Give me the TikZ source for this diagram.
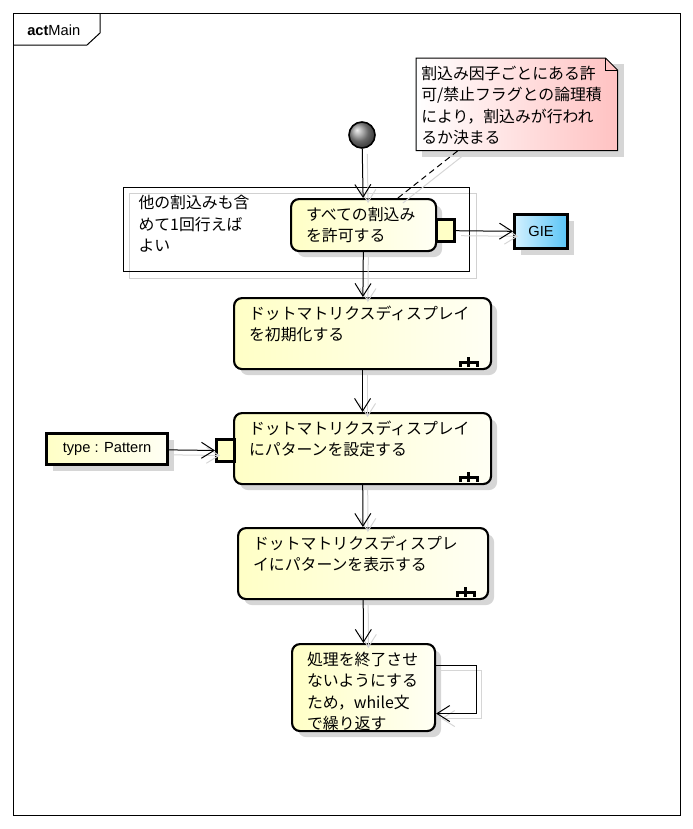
\documentclass[tikz,border=0pt]{standalone}
\usepackage{fontspec}
\setmainfont{Noto Sans CJK JP}
\newfontfamily\latin{Liberation Sans}
\usetikzlibrary{arrows.meta,shadows,backgrounds}

\definecolor{actyellow}{HTML}{FFFFC6}
\definecolor{actlight}{HTML}{FFFFF4}
\definecolor{notepink}{HTML}{FFC2C2}
\definecolor{gieblue}{HTML}{58C4F6}
\definecolor{gielight}{HTML}{D2F0FF}
\definecolor{shadowgray}{HTML}{D6D6D6}

\newcommand{\acttext}[3]{\parbox[t][#2][t]{#1}{#3}}

\tikzset{
  jp/.style={font=\fontsize{11.9}{16}\selectfont},
  flow/.style={-{Straight Barb[length=9.5pt,width=12pt]}, line width=0.75pt},
  ghost/.style={draw=black!16, transform canvas={shift={(3.75pt,-3.75pt)}}},
  boxshadow/.style={drop shadow={shadow xshift=4.5pt, shadow yshift=-4.5pt, fill=shadowgray, opacity=1}},
  action/.style={jp, draw, line width=1.6pt, rounded corners=6pt, left color=actyellow, right color=actlight,
    anchor=north west, inner xsep=11.25pt, inner ysep=6pt, boxshadow},
  pinbox/.style={draw, line width=2.4pt, fill=actyellow, anchor=north west,
    minimum width=13.5pt, minimum height=16.5pt, inner sep=0pt},
  objbox/.style={draw, line width=2.4pt, anchor=north west, inner sep=0pt,
    font=\latin\fontsize{11}{13}\selectfont, boxshadow},
  start/.style={circle, draw, line width=1.2pt, ball color=gray!85, minimum size=19.5pt, inner sep=0pt},
  callicon/.style={draw=black, line width=2.2pt, line cap=butt}
}

\begin{document}
\begin{tikzpicture}[x=0.75pt, y=-0.75pt]
\useasboundingbox (0,0) rectangle (693,829);

% frame
\draw[line width=0.75pt] (13,13) rectangle (680,815);
\draw[line width=0.75pt] (13,45) -- (87,45) -- (100,33) -- (100,13);
\node[anchor=west, font=\latin\fontsize{11}{13}\selectfont, inner sep=0pt] (title) at (27,30) {\textbf{act}Main};

% note
\node[jp, anchor=north west, inner xsep=3.75pt, inner ysep=6pt] (memo) at (416,58)
  {\acttext{143.25pt}{57pt}{割込み因子ごとにある許\\可/禁止フラグとの論理積\\により，割込みが行われ\\るか決まる}};

% interruptible region
\node[jp, draw, line width=0.75pt, anchor=north west, inner xsep=11.25pt, inner ysep=6pt] (region) at (123,187)
  {\acttext{237pt}{51pt}{他の割込みも含\\めて1回行えば\\よい}};

\begin{scope}[on background layer]
\fill[shadowgray] ([shift={(6,6)}]memo.north west) rectangle ([shift={(6,6)}]memo.south east);
\shadedraw[left color=white, right color=notepink, line width=0.75pt]
  (memo.north west) -- ([shift={(-12,0)}]memo.north east) -- ([shift={(0,12)}]memo.north east)
  -- (memo.south east) -- (memo.south west) -- cycle;
\draw[line width=0.75pt] ([shift={(-12,0)}]memo.north east) |- ([shift={(0,12)}]memo.north east);
\draw[black!18] ([shift={(6,6)}]region.north west) rectangle ([shift={(6,6)}]region.south east);
\end{scope}

% nodes
\node[start] (start) at (362,135) {};
\node[action] (a1) at (290,198) {\acttext{86.25pt}{27pt}{すべての割込み\\を許可する}};
\node[pinbox] (pin1) at (435,218) {};
\node[objbox, left color=gielight, right color=gieblue, minimum width=39.75pt, minimum height=25.5pt] (gie) at (513,213) {GIE};
\node[action] (a2) at (233,297) {\acttext{170.25pt}{41.25pt}{ドットマトリクスディスプレイ\\を初期化する}};
\node[action] (a3) at (233,412) {\acttext{170.25pt}{41.25pt}{ドットマトリクスディスプレイ\\にパターンを設定する}};
\node[pinbox] (pin2) at (215,438) {};
\node[objbox, left color=actyellow, right color=actlight, minimum width=90.75pt, minimum height=23.25pt] (obj) at (45,432) {type : Pattern};
\node[action] (a4) at (237,527) {\acttext{165pt}{41.25pt}{ドットマトリクスディスプレ\\イにパターンを表示する}};
\node[action] (a5) at (291,643) {\acttext{84.75pt}{53.25pt}{処理を終了させ\\ないようにする\\ため，while文\\で繰り返す}};

% call behavior icons
\foreach \n in {a2,a3,a4} {
  \draw[callicon] ([shift={(-32,-3)}]\n.south east) -- ++(0,-5) -- ++(17,0) -- ++(0,5);
  \draw[callicon] ([shift={(-23.5,-3)}]\n.south east) -- ++(0,-10);
}

% connectors
\foreach \a/\b in {start/a1,a1/a2,a2/a3,a3/a4,a4/a5,pin1/gie,obj/pin2} {
  \draw[flow,ghost] (\a) -- (\b);
  \draw[flow] (\a) -- (\b);
}
\draw[ghost, line width=0.75pt] (a1) -- (memo);
\draw[line width=0.75pt, dash pattern=on 4.5pt off 3pt] (a1) -- (memo);
\draw[flow,ghost] ([shift={(0,-22)}]a5.east) -- ++(40,0) |- ([shift={(0,26)}]a5.east);
\draw[flow] ([shift={(0,-22)}]a5.east) -- ++(40,0) |- ([shift={(0,26)}]a5.east);
\end{tikzpicture}
\end{document}
